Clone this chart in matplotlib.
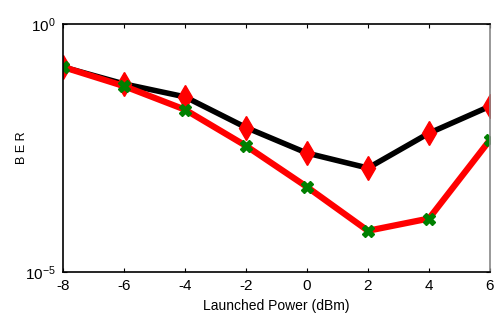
import matplotlib
matplotlib.use('Agg')
import matplotlib.pyplot as plt

plt.rcParams['font.family'] = ['Liberation Sans', 'DejaVu Sans']
plt.rcParams['mathtext.default'] = 'regular'

power_dbm = [-8, -6, -4, -2, 0, 2, 4, 6]
ber_black = [0.136, 0.062, 0.034, 8.2e-3, 2.5e-3, 1.25e-3, 6.3e-3, 2.2e-2]
ber_red = [0.136, 0.056, 0.0188, 3.5e-3, 5.2e-4, 6.8e-5, 1.2e-4, 4.6e-3]
xticks = [-8, -6, -4, -2, 0, 2, 4, 6]

fig = plt.figure(figsize=(4.97, 3.31), dpi=100)
ax = fig.add_axes([0.1268, 0.178, 0.859, 0.7495])

ax.plot(power_dbm, ber_black, color='black', linewidth=4,
        marker='d', markersize=12, markerfacecolor='red', markeredgecolor='red')
ax.plot(power_dbm, ber_red, color='red', linewidth=4.5,
        marker='X', markersize=9, markerfacecolor='green', markeredgecolor='green')

ax.set_yscale('log')
ax.set_xlim(-8, 6)
ax.set_ylim(1e-5, 1e0)
ax.set_xticks(xticks)
ax.set_xticklabels([str(v) for v in xticks])
ax.set_yticks([1e-5, 1e0])
ax.set_yticklabels(['$10^{-5}$', '$10^{0}$'])
ax.yaxis.set_minor_locator(matplotlib.ticker.NullLocator())
ax.tick_params(direction='in', length=3, labelsize=11, top=True, right=True, pad=5)

for s in ax.spines.values():
    s.set_linewidth(1.2)
ax.spines['right'].set_color('#888888')

ax.set_xlabel('Launched Power (dBm)', fontsize=10)
ax.set_ylabel('B E R', fontsize=9)
ax.yaxis.set_label_coords(-0.082, 0.5)

plt.savefig('out.png', dpi=100, facecolor='white')
